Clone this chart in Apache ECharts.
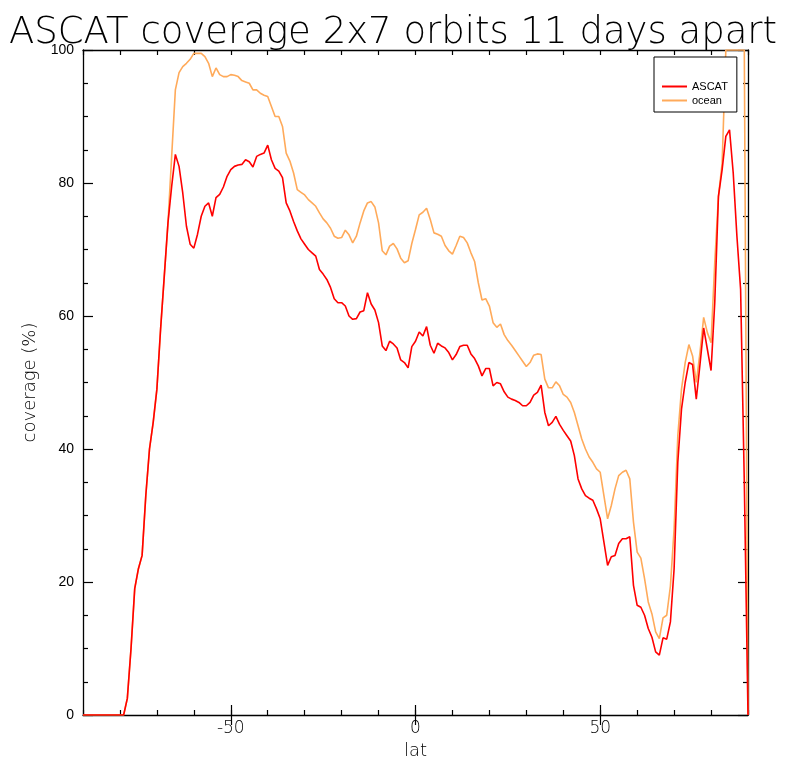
<!DOCTYPE html>
<html>
<head>
<meta charset="utf-8">
<script src="https://cdn.jsdelivr.net/npm/echarts@6/dist/echarts.min.js"></script>
<style>
html,body{margin:0;padding:0;background:#fff;}
#chart{width:786px;height:758px;}
</style>
</head>
<body>
<div id="chart"></div>
<script>
var titleText = 'ASCAT coverage 2x7 orbits 11 days apart';
var xName = 'lat';
var yName = 'coverage (%)';
var seriesNames = ['ASCAT', 'ocean'];
var xMajorTicks = [-50, 0, 50];

var lat = [
-90,-89,-88,-87,-86,-85,-84,-83,-82,-81,-80,-79,
-78,-77,-76,-75,-74,-73,-72,-71,-70,-69,-68,-67,
-66,-65,-64,-63,-62,-61,-60,-59,-58,-57,-56,-55,
-54,-53,-52,-51,-50,-49,-48,-47,-46,-45,-44,-43,
-42,-41,-40,-39,-38,-37,-36,-35,-34,-33,-32,-31,
-30,-29,-28,-27,-26,-25,-24,-23,-22,-21,-20,-19,
-18,-17,-16,-15,-14,-13,-12,-11,-10,-9,-8,-7,
-6,-5,-4,-3,-2,-1,0,1,2,3,4,5,
6,7,8,9,10,11,12,13,14,15,16,17,
18,19,20,21,22,23,24,25,26,27,28,29,
30,31,32,33,34,35,36,37,38,39,40,41,
42,43,44,45,46,47,48,49,50,51,52,53,
54,55,56,57,58,59,60,61,62,63,64,65,
66,67,68,69,70,71,72,73,74,75,76,77,
78,79,80,81,82,83,84,85,86,87,88,89,
90
];

var ascat = [
0,0,0,0,0,0,0,0,0,0,0,0,
2.5,10,19,22,24,33,40,44,49,58,66,74,
79.5,84.3,82.5,78.5,73.5,70.8,70.2,72.3,75,76.5,77,75,
77.8,78.3,79.4,81,82,82.5,82.7,82.8,83.5,83.2,82.4,84,
84.3,84.5,85.7,83.5,82.2,81.8,80.8,77,75.8,74.2,72.8,71.6,
70.8,70,69.5,69,67,66.3,65.5,64.3,62.6,62,62,61.5,
60,59.5,59.6,60.6,60.8,63.5,61.8,60.9,59,55.5,54.8,56.2,
55.8,55.2,53.4,53,52.2,55.4,56.2,57.6,57,58.4,55.6,54.4,
55.9,55.5,55.2,54.5,53.4,54.2,55.4,55.6,55.6,54.3,53.6,52.5,
51,52.1,52.1,49.5,50,49.8,48.6,47.8,47.5,47.3,47,46.5,
46.5,47,48.1,48.5,49.6,45.5,43.5,44,44.9,43.7,42.8,42,
41.2,39,35.5,34,33,32.6,32.3,31,29.5,26,22.5,23.8,
24,25.8,26.5,26.5,26.8,19.5,16.5,16.2,15,13,11.7,9.5,
9,11.6,11.4,14,22,38,46,50,53,52.7,47.5,52.7,
58.2,55,51.8,62,78,82,87,88,81.5,72,64,35,
0
];

var ocean = [
0,0,0,0,0,0,0,0,0,0,0,0,
2.5,10,19,22,24,33,40,44,49,58,66,74,
84,94,96.6,97.5,98,98.6,99.5,99.5,99.5,99,98,96,
97.3,96.3,96,96,96.3,96.2,96,95.4,95.2,95,94,94,
93.5,93.2,93,91.5,90,90,88.5,84.5,83.3,81.5,79,78.6,
78.2,77.5,77,76.5,75.5,74.6,74,73.2,72,71.7,71.8,72.9,
72.2,71,72,74,75.8,77,77.2,76.4,74,69.8,69.2,70.5,
70.9,70.1,68.7,68,68.3,70.9,73,75.2,75.6,76.2,74.5,72.5,
72.3,72,70.6,69.8,69.3,70.6,72,71.8,71,69.5,68.2,65,
62.4,62.6,61.5,59,58.3,58.8,57.2,56.3,55.6,54.8,54,53.2,
52.4,53,54.1,54.3,54.2,50.5,49.2,49.2,50.1,49.5,48.2,47.8,
47,45.5,43.5,41.5,40,38.8,38,37,36.5,33,29.5,31.5,
34,36,36.5,36.8,35.5,29,24.5,23.6,20.5,17,15.2,12.5,
11.5,14.6,15,19.4,28,42,49,53,55.7,54,50,54.5,
59.8,57.5,56,68,78,83,100,100,100,100,100,100,
0
];

function pairs(xs, ys) {
  var out = [];
  for (var i = 0; i < xs.length; i++) out.push([xs[i], ys[i]]);
  return out;
}

var chart = echarts.init(document.getElementById('chart'), null, {renderer: 'canvas'});
var black = '#000';
var lineStyleAxis = {color: black, width: 1.3};

function xAxisBase(pos, withLabels) {
  return {
    type: 'value', position: pos, min: -90, max: 90, interval: 10,
    axisLine: {show: true, onZero: false, lineStyle: lineStyleAxis},
    axisTick: {show: true, inside: true, length: 5, lineStyle: {color: black, width: 1.2}},
    axisLabel: withLabels ? {
      show: true, customValues: xMajorTicks, color: black,
      fontFamily: 'DejaVu Sans', fontWeight: 200, fontSize: 17, margin: 5
    } : {show: false},
    splitLine: {show: false}
  };
}
function xAxisMajor(pos) {
  return {
    type: 'value', position: pos, min: -90, max: 90, interval: 10,
    axisLine: {show: false},
    axisTick: {show: true, inside: true, length: 10, customValues: xMajorTicks, lineStyle: {color: black, width: 1.2}},
    axisLabel: {show: false},
    splitLine: {show: false}
  };
}
function yAxisBase(pos, withLabels) {
  return {
    type: 'value', position: pos, min: 0, max: 100, interval: 20,
    axisLine: {show: true, onZero: false, lineStyle: lineStyleAxis},
    axisTick: {show: true, inside: true, length: 10, lineStyle: {color: black, width: 1.2}},
    minorTick: {show: true, splitNumber: 4, length: 5, lineStyle: {color: black, width: 1.2}},
    axisLabel: withLabels ? {
      show: true, color: black, fontFamily: 'Liberation Sans', fontSize: 14, margin: 9
    } : {show: false},
    splitLine: {show: false},
    minorSplitLine: {show: false}
  };
}

var xa0 = xAxisBase('bottom', true);
xa0.name = xName;
xa0.nameLocation = 'middle';
xa0.nameGap = 19;
xa0.nameTextStyle = {color: black, fontFamily: 'DejaVu Sans', fontWeight: 200, fontSize: 18};

var ya0 = yAxisBase('left', true);
ya0.name = yName;
ya0.nameLocation = 'middle';
ya0.nameGap = 44;
ya0.nameRotate = 90;
ya0.nameTextStyle = {color: black, fontFamily: 'DejaVu Sans', fontWeight: 200, fontSize: 18};

var option = {
  animation: false,
  backgroundColor: '#fff',
  title: {
    text: titleText, left: 'center', top: 10,
    textStyle: {color: black, fontFamily: 'DejaVu Sans', fontWeight: 200, fontSize: 37}
  },
  grid: {left: 83, right: 38, top: 50, bottom: 43, containLabel: false, outerBoundsMode: 'none'},
  legend: {
    orient: 'vertical', left: 654, top: 57,
    padding: [24, 9, 6, 8], itemGap: 3,
    borderColor: black, borderWidth: 1, backgroundColor: '#fff',
    icon: 'rect', itemWidth: 25, itemHeight: 2,
    textStyle: {color: black, fontFamily: 'Liberation Sans', fontSize: 11, padding: [0, 0, 0, 0]},
    data: seriesNames
  },
  xAxis: [xa0, xAxisMajor('bottom'), xAxisBase('top', false), xAxisMajor('top')],
  yAxis: [ya0, yAxisBase('right', false)],
  series: [
    {
      name: seriesNames[1], type: 'line', xAxisIndex: 0, yAxisIndex: 0,
      data: pairs(lat, ocean), showSymbol: false, symbol: 'none',
      lineStyle: {color: '#ffaa5a', width: 1.6}, itemStyle: {color: '#ffaa5a'}, z: 2
    },
    {
      name: seriesNames[0], type: 'line', xAxisIndex: 0, yAxisIndex: 0,
      data: pairs(lat, ascat), showSymbol: false, symbol: 'none',
      lineStyle: {color: '#ff0000', width: 1.6}, itemStyle: {color: '#ff0000'}, z: 3
    }
  ]
};
chart.setOption(option);
</script>
</body>
</html>
